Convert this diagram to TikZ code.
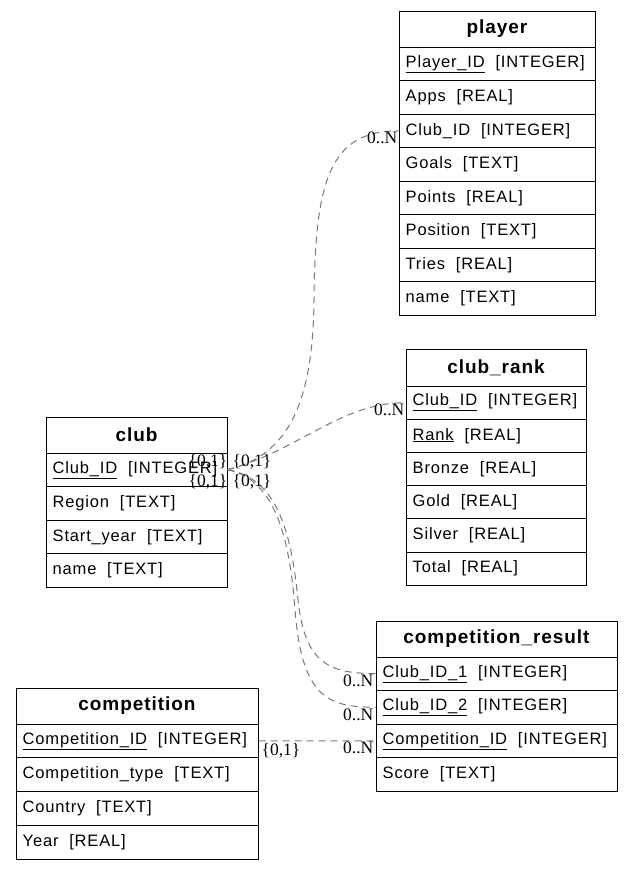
\documentclass[tikz,border=0pt]{standalone}
\usepackage{fontspec}
\setmainfont{Liberation Serif}
\newfontfamily\tblfont[LetterSpace=5]{Liberation Sans}
\begin{document}
\begin{tikzpicture}[x=1pt,y=-1pt,
  rowbox/.style={draw, line width=1pt, inner sep=0pt},
  rowtext/.style={anchor=west, xshift=7pt, inner sep=0pt, font=\tblfont\fontsize{16.5}{19}\selectfont},
  titletext/.style={inner sep=0pt, font=\tblfont\bfseries\fontsize{19}{22}\selectfont},
  rel/.style={draw=gray!95!black, line width=1pt, dash pattern=on 7pt off 5pt},
  card/.style={inner sep=0pt, font=\fontsize{17.5}{19}\selectfont}]
\useasboundingbox (0,0) rectangle (633,871);
\newcommand{\erow}[6]{%
  \node[rowbox, minimum width=#4pt, minimum height=#5pt] (#1) at ({#2+#4/2},{#3+#5/2}) {};
  \node[rowtext] at (#1.west) {#6};}
\newcommand{\etitle}[6]{%
  \node[rowbox, minimum width=#4pt, minimum height=#5pt] (#1) at ({#2+#4/2},{#3+#5/2}) {};
  \node[titletext] at (#1.center) {#6};}
% player
\etitle{player}{399}{11}{196}{36}{player}
\erow{player-1}{399}{47}{196}{33.5}{\underline{Player\_ID}\ \ [INTEGER]}
\erow{player-2}{399}{80.5}{196}{33.5}{Apps\ \ [REAL]}
\erow{player-3}{399}{114}{196}{33.5}{Club\_ID\ \ [INTEGER]}
\erow{player-4}{399}{147.5}{196}{33.5}{Goals\ \ [TEXT]}
\erow{player-5}{399}{181}{196}{33.5}{Points\ \ [REAL]}
\erow{player-6}{399}{214.5}{196}{33.5}{Position\ \ [TEXT]}
\erow{player-7}{399}{248}{196}{33.5}{Tries\ \ [REAL]}
\erow{player-8}{399}{281.5}{196}{33.5}{name\ \ [TEXT]}
% club_rank
\etitle{rank}{406}{349}{180}{37}{club\_rank}
\erow{rank-1}{406}{386}{180}{33.2}{\underline{Club\_ID}\ \ [INTEGER]}
\erow{rank-2}{406}{419.2}{180}{33.2}{\underline{Rank}\ \ [REAL]}
\erow{rank-3}{406}{452.4}{180}{33.2}{Bronze\ \ [REAL]}
\erow{rank-4}{406}{485.6}{180}{33.2}{Gold\ \ [REAL]}
\erow{rank-5}{406}{518.8}{180}{33.2}{Silver\ \ [REAL]}
\erow{rank-6}{406}{552}{180}{33.2}{Total\ \ [REAL]}
% club
\etitle{club}{46}{417}{181}{36}{club}
\erow{club-1}{46}{453}{181}{33.5}{\underline{Club\_ID}\ \ [INTEGER]}
\erow{club-2}{46}{486.5}{181}{33.5}{Region\ \ [TEXT]}
\erow{club-3}{46}{520}{181}{33.5}{Start\_year\ \ [TEXT]}
\erow{club-4}{46}{553.5}{181}{33.5}{name\ \ [TEXT]}
% competition
\etitle{comp}{16}{688}{242}{36}{competition}
\erow{comp-1}{16}{724}{242}{33.75}{\underline{Competition\_ID}\ \ [INTEGER]}
\erow{comp-2}{16}{757.75}{242}{33.75}{Competition\_type\ \ [TEXT]}
\erow{comp-3}{16}{791.5}{242}{33.75}{Country\ \ [TEXT]}
\erow{comp-4}{16}{825.25}{242}{33.75}{Year\ \ [REAL]}
% competition_result
\etitle{cr}{376}{621}{241}{36}{competition\_result}
\erow{cr-1}{376}{657}{241}{33.5}{\underline{Club\_ID\_1}\ \ [INTEGER]}
\erow{cr-2}{376}{690.5}{241}{33.5}{\underline{Club\_ID\_2}\ \ [INTEGER]}
\erow{cr-3}{376}{724}{241}{33.5}{\underline{Competition\_ID}\ \ [INTEGER]}
\erow{cr-4}{376}{757.5}{241}{33.5}{Score\ \ [TEXT]}
% connectors
\draw[rel] (club-1.east) .. controls (290,455) and (313,400) .. (314,300) .. controls (315,180) and (330,131) .. (player-3.west);
\draw[rel] (club-1.east) .. controls (300,450) and (340,403) .. (rank-1.west);
\draw[rel] (club-1.east) .. controls (280,478) and (292,540) .. (298,600) .. controls (305,665) and (330,673) .. (cr-1.west);
\draw[rel] (club-1.east) .. controls (278,480) and (290,545) .. (295,610) .. controls (302,700) and (330,707) .. (cr-2.west);
\draw[rel] (comp-1.east) -- (cr-3.west);
% cardinalities
\node[card, anchor=south east] (c1) at ([yshift=0pt]club-1.east) {\{0,1\}};
\node[card, anchor=south west] (c2) at ([xshift=5pt,yshift=0pt]club-1.east) {\{0,1\}};
\node[card, anchor=north east] (c3) at ([yshift=-4pt]club-1.east) {\{0,1\}};
\node[card, anchor=north west] (c4) at ([xshift=5pt,yshift=-4pt]club-1.east) {\{0,1\}};
\node[card, anchor=north west] (c5) at ([xshift=3pt,yshift=-2pt]comp-1.east) {\{0,1\}};
\node[card, anchor=north east] (n1) at ([xshift=-1pt,yshift=-1pt]player-3.west) {0..N};
\node[card, anchor=north east] (n2) at ([xshift=-1pt,yshift=-1pt]rank-1.west) {0..N};
\node[card, anchor=north east] (n3) at ([xshift=-2pt,yshift=-1pt]cr-1.west) {0..N};
\node[card, anchor=north east] (n4) at ([xshift=-2pt,yshift=-1pt]cr-2.west) {0..N};
\node[card, anchor=north east] (n5) at ([xshift=-2pt,yshift=-1pt]cr-3.west) {0..N};
\end{tikzpicture}
\end{document}
